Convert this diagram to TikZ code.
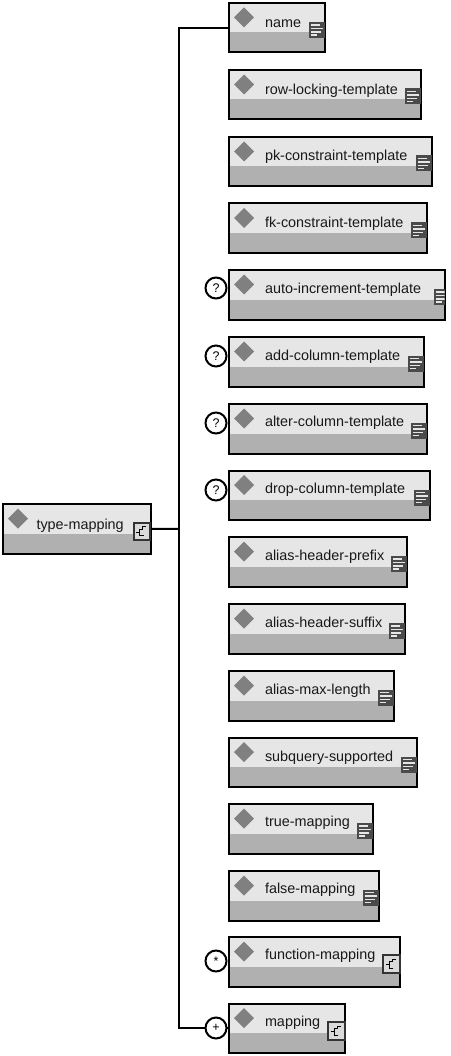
\documentclass[tikz,border=0pt]{standalone}
\usepackage{fontspec}
\setmainfont{Liberation Sans}
\usepackage{xcolor}
\usetikzlibrary{positioning}
\definecolor{bandlight}{HTML}{E6E6E6}
\definecolor{banddark}{HTML}{B0B0B0}
\definecolor{gemgray}{HTML}{808080}
\definecolor{docgray}{HTML}{4A4A4A}

\begin{document}
\begin{tikzpicture}[x=1pt, y=-1pt, every node/.style={inner sep=0pt, outer sep=0pt}]
\tikzset{
  elem/.style={draw, line width=2pt, fill=bandlight, anchor=north west, minimum height=49.5pt,
    path picture={
      \fill[banddark] (path picture bounding box.north west) ++(0,29.5) rectangle (path picture bounding box.south east);
      \fill[gemgray] (path picture bounding box.north west) ++(15,4.5) -- ++(10,10) -- ++(-10,10) -- ++(-10,-10) -- cycle;
    }},
  lbl/.style={anchor=base west, yshift=-0.5pt, font=\fontsize{14.4pt}{16pt}\selectfont, text=black!90},
  docicon/.style={anchor=north east, fill=docgray, minimum width=15.5pt, minimum height=16pt,
    path picture={
      \draw[bandlight, line width=1.2pt]
        (path picture bounding box.north west) ++(2,3) -- ++(9,0) ++(-9,3.5) -- ++(12,0) ++(-12,3.5) -- ++(10,0) ++(-10,3) -- ++(6,0);
    }},
  groupicon/.style={draw=docgray!70!black, line width=2pt, fill=bandlight!95!black, anchor=north east, minimum width=16.5pt, minimum height=17.5pt,
    path picture={
      \draw[black, line width=1.1pt] (path picture bounding box.center) ++(-5.5,1) -- ++(3.5,0);
      \draw[black, line width=1.1pt] (path picture bounding box.center) ++(2,4.5) -- ++(-4,0) -- ++(0,-6.5) -- ++(3,0) -- ++(0,-2.5) -- ++(3.5,0);
    }},
  occur/.style={draw, line width=2pt, circle, fill=white, minimum size=21pt, font=\fontsize{12.5pt}{14pt}\selectfont},
  conn/.style={line width=2pt}
}
\useasboundingbox (0,0) rectangle (450,1056);

% root element
\node[elem, minimum width=148pt] (typemapping) at (3,504) {};
\node[lbl] (typemappinglbl) at (36.5,528.5) {type-mapping};
\node[groupicon] (typemappingicon) at (150,522.5) {};

% children
\node[elem, minimum width=95.5pt] (name) at (229,3) {};
\node[lbl] (namelbl) at (265,27) {name};
\node[docicon] (nameicon) at (324.5,22) {};

\node[elem, minimum width=192pt] (rowlocking) at (229,70) {};
\node[lbl] (rowlockinglbl) at (265,94) {row-locking-template};
\node[docicon] (rowlockingicon) at (420.5,88.5) {};

\node[elem, minimum width=203pt] (pkconstraint) at (229,137) {};
\node[lbl] (pkconstraintlbl) at (265,160) {pk-constraint-template};
\node[docicon] (pkconstrainticon) at (431.5,155.5) {};

\node[elem, minimum width=198pt] (fkconstraint) at (229,203.5) {};
\node[lbl] (fkconstraintlbl) at (265,227) {fk-constraint-template};
\node[docicon] (fkconstrainticon) at (426.5,222.5) {};

\node[elem, minimum width=216pt] (autoincrement) at (229,270) {};
\node[lbl] (autoincrementlbl) at (265,293) {auto-increment-template};
\node[docicon, minimum width=11pt] (autoincrementicon) at (444.5,289) {};

\node[elem, minimum width=195pt] (addcolumn) at (229,337) {};
\node[lbl] (addcolumnlbl) at (265,360) {add-column-template};
\node[docicon] (addcolumnicon) at (423.5,355.5) {};

\node[elem, minimum width=198pt] (altercolumn) at (229,404) {};
\node[lbl] (altercolumnlbl) at (265,426) {alter-column-template};
\node[docicon] (altercolumnicon) at (426.5,422.5) {};

\node[elem, minimum width=201pt] (dropcolumn) at (229,470.5) {};
\node[lbl] (dropcolumnlbl) at (265,493) {drop-column-template};
\node[docicon] (dropcolumnicon) at (429.5,489.5) {};

\node[elem, minimum width=178pt] (aliasprefix) at (229,537) {};
\node[lbl] (aliasprefixlbl) at (265,560) {alias-header-prefix};
\node[docicon] (aliasprefixicon) at (406.5,556) {};

\node[elem, minimum width=176pt] (aliassuffix) at (229,604) {};
\node[lbl] (aliassuffixlbl) at (265,627) {alias-header-suffix};
\node[docicon] (aliassuffixicon) at (404.5,623) {};

\node[elem, minimum width=165pt] (aliasmax) at (229,671) {};
\node[lbl] (aliasmaxlbl) at (265,694) {alias-max-length};
\node[docicon] (aliasmaxicon) at (393.5,689.5) {};

\node[elem, minimum width=188pt] (subquery) at (229,737.5) {};
\node[lbl] (subquerylbl) at (265,761) {subquery-supported};
\node[docicon] (subqueryicon) at (416.5,756.5) {};

\node[elem, minimum width=144pt] (truemapping) at (229,804) {};
\node[lbl] (truemappinglbl) at (265,826) {true-mapping};
\node[docicon] (truemappingicon) at (372.5,823) {};

\node[elem, minimum width=150pt] (falsemapping) at (229,871) {};
\node[lbl] (falsemappinglbl) at (265,893) {false-mapping};
\node[docicon] (falsemappingicon) at (378.5,889.5) {};

\node[elem, minimum width=171pt] (functionmapping) at (229,937) {};
\node[lbl] (functionmappinglbl) at (265,959) {function-mapping};
\node[groupicon] (functionmappingicon) at (399.5,955) {};

\node[elem, minimum width=116pt] (mapping) at (229,1003.5) {};
\node[lbl] (mappinglbl) at (265,1026) {mapping};
\node[groupicon] (mappingicon) at (344.5,1022) {};

% connectors
\coordinate (spine) at (178.5,529);
\draw[conn] (typemapping.east) -- (spine);
\draw[conn] (name.west) -| (spine);
\draw[conn] (mapping.west) -| (spine);

% occurrence marks
\node[occur] (autoincrementocc) at (216,288) {?};
\node[occur] (addcolumnocc) at (216,356) {?};
\node[occur] (altercolumnocc) at (216,423) {?};
\node[occur] (dropcolumnocc) at (216,490) {?};
\node[occur] (functionmappingocc) at (216,961) {*};
\node[occur] (mappingocc) at (216,1028) {+};
\end{tikzpicture}
\end{document}
